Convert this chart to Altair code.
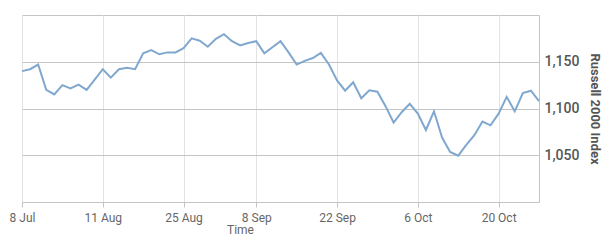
import altair as alt
import pandas as pd

# Russell 2000 Index, one value per trading day
values = [1140, 1142, 1147, 1120, 1115, 1125, 1121.5, 1125.5, 1120, 1131,
          1142, 1133, 1142, 1143.5, 1142, 1159, 1162.5, 1158, 1160, 1160,
          1164.5, 1175, 1172.5, 1166, 1174.5, 1179.5, 1172, 1167.5, 1170, 1172,
          1159, 1165.5, 1172, 1160, 1147, 1151, 1154, 1159.5, 1147, 1130,
          1119, 1128, 1111, 1119.5, 1118, 1102.5, 1085, 1096, 1105, 1094.5,
          1077, 1097, 1069, 1053.5, 1049.5, 1061, 1071.5, 1086, 1082, 1094.5,
          1112.5, 1097, 1116.5, 1119, 1108]

tick_index = [0, 10, 20, 29, 39, 49, 59]
tick_labels = ["8 Jul", "11 Aug", "25 Aug", "8 Sep", "22 Sep", "6 Oct", "20 Oct"]
y_ticks = [1050, 1100, 1150]

df = pd.DataFrame({"i": list(range(len(values))), "v": values})

label_expr = " : ".join(
    f"datum.value == {i} ? '{l}'" for i, l in zip(tick_index, tick_labels)
) + " : ''"

font = "Roboto"

chart = alt.Chart(df).mark_line(color="#80a8cf", strokeWidth=2).encode(
    x=alt.X("i:Q", title="Time",
            scale=alt.Scale(domain=[0, len(values) - 1], nice=False, zero=False),
            axis=alt.Axis(values=tick_index, labelExpr=label_expr,
                          grid=True, gridColor="#e3e3e3",
                          domain=True, domainColor="#c4c4c4",
                          ticks=True, tickColor="#c4c4c4", tickSize=5,
                          labelPadding=5, labelFont=font, labelFontSize=12,
                          labelColor="#666666", labelFlush=False,
                          titleFont=font, titleFontSize=12, titleFontWeight="normal",
                          titleColor="#666666", titleX=218, titleY=22)),
    y=alt.Y("v:Q", title="Russell 2000 Index",
            scale=alt.Scale(domain=[1000, 1200], nice=False, zero=False),
            axis=alt.Axis(orient="right", values=y_ticks, format=",.0f",
                          grid=True, gridColor="#c4c4c4",
                          domain=False, ticks=False, labelPadding=5,
                          labelFont=font, labelFontSize=14, labelFontWeight=500,
                          labelColor="#555555",
                          titleFont=font, titleFontSize=13, titleFontWeight="bold",
                          titleColor="#555555", titleAngle=90, titlePadding=9)),
).properties(
    width=517, height=187,
    autosize=alt.AutoSizeParams(type="none"),
    padding={"left": 22, "top": 15, "right": 71, "bottom": 44},
).configure_view(stroke="#c4c4c4", strokeWidth=1)

chart.save("out.html", embed_options={"renderer": "svg", "actions": False})
